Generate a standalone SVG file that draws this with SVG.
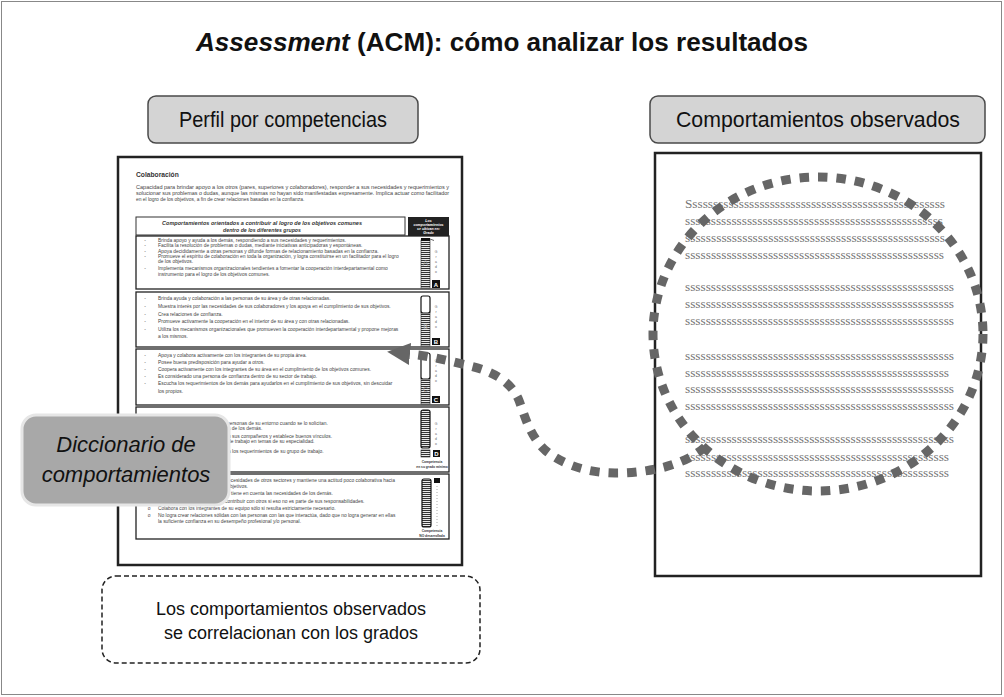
<svg xmlns="http://www.w3.org/2000/svg" width="1004" height="697" viewBox="0 0 1004 697">
<defs>
<style>
.sans{font-family:"Liberation Sans",Arial,sans-serif}
.hdr{fill:#d4d4d4;stroke:#4a4a4a;stroke-width:1.5}
.hdrt{font-family:"Liberation Sans",Arial,sans-serif;font-size:22px;fill:#111;text-anchor:middle}
.doc{fill:#fff;stroke:#222;stroke-width:2.5}
.t{font-family:"Liberation Sans",Arial,sans-serif;font-size:4.9px;fill:#444}
.b{font-family:"Liberation Sans",Arial,sans-serif;font-size:4.9px;fill:#444;text-anchor:middle}
.lvl{fill:#fff;stroke:#222;stroke-width:1.3}
.g{font-family:"Liberation Sans",Arial,sans-serif;font-size:3.4px;fill:#666;text-anchor:middle}
.sq{fill:#111}
.sqt{font-family:"Liberation Sans",Arial,sans-serif;font-size:6px;font-weight:bold;fill:#fff;text-anchor:middle}
.cap{font-family:"Liberation Sans",Arial,sans-serif;font-size:3.3px;font-weight:bold;fill:#333;text-anchor:middle}
.ss{font-family:"Liberation Serif","Times New Roman",serif;font-size:13px;fill:#767676}
.dash{fill:none;stroke:#666;stroke-width:9;stroke-dasharray:9.5 9}
.bar{fill:url(#stripes);stroke:#222;stroke-width:0.6}
.barw{fill:#fff;stroke:#111;stroke-width:1.2}
</style>
<pattern id="stripes" width="4" height="2" patternUnits="userSpaceOnUse"><rect width="4" height="2" fill="#fff"/><rect width="4" height="1.1" fill="#333"/></pattern>
<marker id="ah" markerUnits="userSpaceOnUse" markerWidth="24" markerHeight="22" refX="0" refY="11" orient="auto"><path d="M0,0 L23,11 L0,22 z" fill="#666"/></marker>
</defs>

<rect x="1.5" y="1.5" width="1000" height="693" fill="#fff" stroke="#888" stroke-width="1"/>

<g id="title">
<text x="502" y="51" class="sans" font-size="25" font-weight="bold" fill="#111" text-anchor="middle" textLength="612" lengthAdjust="spacingAndGlyphs"><tspan font-style="italic">Assessment</tspan> (ACM): cómo analizar los resultados</text>
</g>

<g id="header-perfil">
<rect x="148" y="96" width="270" height="47" rx="8" class="hdr"/>
<text x="283" y="127" class="hdrt" textLength="208" lengthAdjust="spacingAndGlyphs">Perfil por competencias</text>
</g>

<g id="header-comportamientos">
<rect x="650" y="96" width="335" height="47" rx="8" class="hdr"/>
<text x="818" y="127" class="hdrt" textLength="284" lengthAdjust="spacingAndGlyphs">Comportamientos observados</text>
</g>

<g id="doc-perfil">
<rect x="118" y="157" width="344" height="408" class="doc"/>
<text x="136" y="177" class="sans" font-size="6.7" font-weight="bold" fill="#333">Colaboración</text>
<text x="136" y="189" class="t" textLength="313" lengthAdjust="spacingAndGlyphs">Capacidad para brindar apoyo a los otros (pares, superiores y colaboradores), responder a sus necesidades y requerimientos y</text>
<text x="136" y="195" class="t" textLength="313" lengthAdjust="spacingAndGlyphs">solucionar sus problemas o dudas, aunque las mismas no hayan sido manifestadas expresamente. Implica actuar como facilitador</text>
<text x="136" y="201" class="t">en el logro de los objetivos, a fin de crear relaciones basadas en la confianza.</text>

<rect x="136" y="217" width="269" height="18" fill="#fff" stroke="#333" stroke-width="1"/>
<text x="262" y="224.5" class="sans" font-size="5.2" font-weight="bold" font-style="italic" fill="#333" text-anchor="middle" textLength="200" lengthAdjust="spacingAndGlyphs">Comportamientos orientados a contribuir al logro de los objetivos comunes</text>
<text x="262" y="231.5" class="sans" font-size="5.2" font-weight="bold" font-style="italic" fill="#333" text-anchor="middle">dentro de los diferentes grupos</text>
<rect x="408" y="217" width="41" height="19" fill="#222"/>
<g class="sans" font-size="3.6" font-weight="bold" font-style="italic" fill="#fff" text-anchor="middle">
<text x="428.5" y="222">Los</text>
<text x="428.5" y="226">comportamientos</text>
<text x="428.5" y="230">se ubican en:</text>
<text x="428.5" y="234">Grado</text>
</g>

<!-- Level A -->
<rect x="136" y="236" width="313" height="53" class="lvl"/>
<g>
<text x="145" y="241.5" class="b">-</text><text x="158" y="241.5" class="t">Brinda apoyo y ayuda a los demás, respondiendo a sus necesidades y requerimientos.</text>
<text x="145" y="247" class="b">-</text><text x="158" y="247" class="t">Facilita la resolución de problemas o dudas, mediante iniciativas anticipadoras y espontáneas.</text>
<text x="145" y="252.5" class="b">-</text><text x="158" y="252.5" class="t">Apoya decididamente a otras personas y difunde formas de relacionamiento basadas en la confianza.</text>
<text x="145" y="258" class="b">-</text><text x="158" y="258" class="t">Promueve el espíritu de colaboración en toda la organización, y logra constituirse en un facilitador para el logro</text>
<text x="158" y="263" class="t">de los objetivos.</text>
<text x="145" y="270" class="b">-</text><text x="158" y="270" class="t">Implementa mecanismos organizacionales tendientes a fomentar la cooperación interdepartamental como</text>
<text x="158" y="276" class="t">instrumento para el logro de los objetivos comunes.</text>
</g>
<rect x="421" y="240" width="9" height="48" class="bar"/>
<rect x="421" y="238" width="9" height="3" fill="#111"/>
<path d="M430,239 l4,1.5" stroke="#222" stroke-width="0.7"/>
<text x="425.5" y="266" class="sans" font-size="9" fill="#999" text-anchor="middle" opacity="0.8">A</text>
<text x="436" y="253" class="g">G</text><text x="436" y="258" class="g">r</text><text x="436" y="263" class="g">a</text><text x="436" y="268" class="g">d</text><text x="436" y="273" class="g">o</text>
<rect x="432" y="280" width="8" height="8" class="sq"/><text x="436" y="286.5" class="sqt">A</text>

<!-- Level B -->
<rect x="136" y="292" width="313" height="55" class="lvl"/>
<g>
<text x="145" y="300" class="b">-</text><text x="158" y="300" class="t">Brinda ayuda y colaboración a las personas de su área y de otras relacionadas.</text>
<text x="145" y="308" class="b">-</text><text x="158" y="308" class="t">Muestra interés por las necesidades de sus colaboradores y los apoya en el cumplimiento de sus objetivos.</text>
<text x="145" y="316" class="b">-</text><text x="158" y="316" class="t">Crea relaciones de confianza.</text>
<text x="145" y="323" class="b">-</text><text x="158" y="323" class="t">Promueve activamente la cooperación en el interior de su área y con  otras relacionadas.</text>
<text x="145" y="331" class="b">-</text><text x="158" y="331" class="t">Utiliza los mecanismos organizacionales que promueven la cooperación interdepartamental y propone mejoras</text>
<text x="158" y="338" class="t">a los mismos.</text>
</g>
<rect x="421" y="312" width="9" height="34" class="bar"/>
<rect x="421" y="296" width="9" height="17" rx="2" class="barw"/>
<text x="425.5" y="329" class="sans" font-size="7" fill="#999" text-anchor="middle">B</text>
<text x="436" y="308" class="g">G</text><text x="436" y="313" class="g">r</text><text x="436" y="318" class="g">a</text><text x="436" y="323" class="g">d</text><text x="436" y="328" class="g">o</text>
<rect x="432" y="338" width="8" height="7" class="sq"/><text x="436" y="344" class="sqt">B</text>

<!-- Level C -->
<rect x="136" y="349" width="313" height="56" class="lvl"/>
<g>
<text x="145" y="357" class="b">-</text><text x="158" y="357" class="t">Apoya y colabora activamente con los integrantes de su propia área.</text>
<text x="145" y="364" class="b">-</text><text x="158" y="364" class="t">Posee buena predisposición para ayudar a otros.</text>
<text x="145" y="371" class="b">-</text><text x="158" y="371" class="t">Coopera activamente con los integrantes de su área en el cumplimiento de los objetivos comunes.</text>
<text x="145" y="378" class="b">-</text><text x="158" y="378" class="t">Es considerado una persona de confianza dentro de su sector de trabajo.</text>
<text x="145" y="385" class="b">-</text><text x="158" y="385" class="t">Escucha los requerimientos de los demás para ayudarlos en el cumplimiento de sus objetivos, sin descuidar</text>
<text x="158" y="393" class="t">los propios.</text>
</g>
<rect x="421" y="378" width="9" height="26" class="bar"/>
<rect x="421" y="353" width="9" height="26" rx="2" class="barw"/>
<text x="425.5" y="392" class="sans" font-size="7" fill="#999" text-anchor="middle">C</text>
<text x="436" y="362" class="g">G</text><text x="436" y="367" class="g">r</text><text x="436" y="372" class="g">a</text><text x="436" y="377" class="g">d</text><text x="436" y="382" class="g">o</text>
<rect x="432" y="396" width="8" height="7" class="sq"/><text x="436" y="402" class="sqt">C</text>

<!-- Level D -->
<rect x="136" y="407" width="313" height="65" class="lvl"/>
<g>
<text x="227" y="424.5" class="t">personas de su entorno cuando se lo solicitan.</text>
<text x="228" y="430" class="t">s de los demás.</text>
<text x="228" y="437.5" class="t">n sus compañeros y establece buenos vínculos.</text>
<text x="228" y="443" class="t">de trabajo en temas de su especialidad.</text>
<text x="228" y="452.5" class="t">a los requerimientos de su grupo de trabajo.</text>
</g>
<rect x="421" y="410" width="9" height="38" rx="2" fill="url(#stripes)" stroke="#111" stroke-width="1.2"/>
<text x="436" y="425" class="g">G</text><text x="436" y="430" class="g">r</text><text x="436" y="435" class="g">a</text><text x="436" y="440" class="g">d</text><text x="436" y="445" class="g">o</text>
<rect x="421" y="450" width="9" height="7" class="bar"/>
<rect x="433" y="450" width="7" height="7" class="sq"/><text x="436.5" y="455.7" class="sqt" font-size="5.5">D</text>
<text x="432" y="462.5" class="cap">Competencia</text>
<text x="432" y="468" class="cap">en su grado mínimo</text>

<!-- Level E -->
<rect x="136" y="474" width="313" height="65" class="lvl"/>
<g>
<text x="228" y="481.5" class="t">ecesidades de otros sectores y  mantiene una actitud poco colaborativa hacia</text>
<text x="230" y="488" class="t">bjetivos.</text>
<text x="227" y="495" class="t">o tiene en cuenta las necesidades de los demás.</text>
<text x="225" y="502.5" class="t">contribuir con otros si eso no es parte de sus responsabilidades.</text>
<text x="149" y="509.5" class="b">o</text><text x="158" y="509.5" class="t">Colabora con los integrantes de su equipo sólo si resulta estrictamente necesario.</text>
<text x="149" y="517" class="b">o</text><text x="158" y="517" class="t">No logra crear relaciones sólidas con las personas con las que interactúa, dado que no logra generar en ellas</text>
<text x="158" y="523" class="t">la suficiente confianza en su desempeño profesional y/o personal.</text>
</g>
<rect x="422" y="479" width="9" height="48" rx="2" fill="url(#stripes)" stroke="#111" stroke-width="1.2"/>
<rect x="434" y="478" width="6" height="5" class="sq"/>
<path d="M437,486 V526" stroke="#777" stroke-width="0.8" stroke-dasharray="0.8 2.2"/>
<text x="432" y="531.5" class="cap">Competencia</text>
<text x="432" y="536.5" class="cap">NO desarrollada</text>
</g>

<g id="doc-observados">
<rect x="655" y="153" width="326" height="423" class="doc"/>
<g class="ss">
<text x="685" y="208" textLength="260" lengthAdjust="spacingAndGlyphs">Ssssssssssssssssssssssssssssssssssssssssssssssssss</text>
<text x="685" y="225" textLength="258" lengthAdjust="spacingAndGlyphs">ssssssssssssssssssssssssssssssssssssssssssssssssss</text>
<text x="685" y="242" textLength="260" lengthAdjust="spacingAndGlyphs">ssssssssssssssssssssssssssssssssssssssssssssssssss</text>
<text x="685" y="259" textLength="259" lengthAdjust="spacingAndGlyphs">ssssssssssssssssssssssssssssssssssssssssssssssssss</text>
<text x="685" y="291" textLength="269" lengthAdjust="spacingAndGlyphs">ssssssssssssssssssssssssssssssssssssssssssssssssssss</text>
<text x="685" y="308" textLength="269" lengthAdjust="spacingAndGlyphs">ssssssssssssssssssssssssssssssssssssssssssssssssssss</text>
<text x="685" y="325" textLength="269" lengthAdjust="spacingAndGlyphs">ssssssssssssssssssssssssssssssssssssssssssssssssssss</text>
<text x="685" y="360" textLength="269" lengthAdjust="spacingAndGlyphs">ssssssssssssssssssssssssssssssssssssssssssssssssssss</text>
<text x="685" y="377" textLength="264" lengthAdjust="spacingAndGlyphs">sssssssssssssssssssssssssssssssssssssssssssssssssss</text>
<text x="685" y="393" textLength="269" lengthAdjust="spacingAndGlyphs">ssssssssssssssssssssssssssssssssssssssssssssssssssss</text>
<text x="685" y="410" textLength="269" lengthAdjust="spacingAndGlyphs">ssssssssssssssssssssssssssssssssssssssssssssssssssss</text>
<text x="685" y="443" textLength="269" lengthAdjust="spacingAndGlyphs">ssssssssssssssssssssssssssssssssssssssssssssssssssss</text>
<text x="685" y="461" textLength="264" lengthAdjust="spacingAndGlyphs">sssssssssssssssssssssssssssssssssssssssssssssssssss</text>
<text x="685" y="477" textLength="264" lengthAdjust="spacingAndGlyphs">sssssssssssssssssssssssssssssssssssssssssssssssssss</text>
</g>
</g>

<g id="connectors">
<ellipse cx="818" cy="334" rx="165" ry="157" class="dash"/>
<path d="M705,447 C685,465 650,473 615,473 C585,473 560,463 545,450 C528,434 524,412 518,398 C510,382 495,372 470,366 C450,361 430,356 410,354" class="dash" marker-end="url(#ah)"/>
</g>

<g id="diccionario">
<rect x="22" y="415" width="207" height="90" rx="14" fill="#a8a8a8" stroke="#e6e6e6" stroke-width="3"/>
<text x="126" y="452" class="sans" font-size="22" font-style="italic" fill="#111" text-anchor="middle">Diccionario de</text>
<text x="126" y="482" class="sans" font-size="22" font-style="italic" fill="#111" text-anchor="middle">comportamientos</text>
</g>

<g id="nota">
<rect x="102" y="576" width="378" height="87" rx="14" fill="none" stroke="#222" stroke-width="1.5" stroke-dasharray="5 3"/>
<text x="291" y="615" class="sans" font-size="18" fill="#111" text-anchor="middle">Los comportamientos observados</text>
<text x="291" y="639" class="sans" font-size="18" fill="#111" text-anchor="middle">se correlacionan con los grados</text>
</g>
</svg>
